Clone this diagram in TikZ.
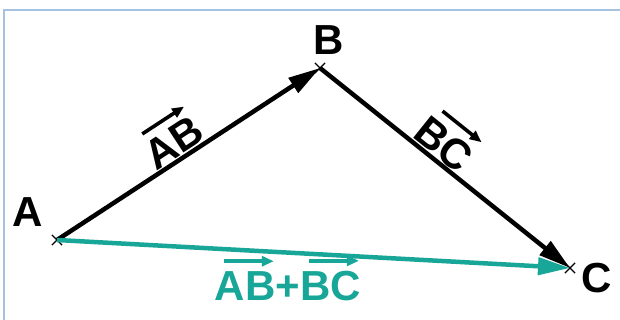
\documentclass[tikz,border=0pt]{standalone}
\usepackage{fontspec}
\setmainfont{Liberation Sans}
\usetikzlibrary{positioning,arrows.meta,shapes.misc}
\definecolor{vecteal}{RGB}{24,166,152}
\definecolor{frameblue}{RGB}{165,195,225}
% 向量记号: 字母上方的小箭头
\newcommand\vecover[1]{\vbox{\offinterlineskip\halign{\hfil##\cr
	\tikz\draw[line width=3.6pt,-{Triangle[length=12pt,width=10pt]}] (0,0) -- (50pt,0);\cr
	\noalign{\vskip5pt}#1\cr}}}

\begin{document}
\begin{tikzpicture}[x=1pt,y=1pt,
	point/.style={cross out,draw,line width=1.2pt,minimum size=9pt,inner sep=0pt},
	ptlabel/.style={font=\fontsize{42}{42}\selectfont\bfseries,inner sep=0pt},
	vecline/.style={line width=4.5pt,-{Triangle[length=32pt,width=17pt]}},
	veclabel/.style={font=\fontsize{42}{42}\selectfont\bfseries,inner sep=3pt}]
	\useasboundingbox (0,0) rectangle (620,320);
	%% 边框
	\draw[frameblue,line width=1.2pt] (4,0) -- (4,310) -- (620,310);
	%% 三个点
	\node[point] (A) at (57,80) {};
	\node[point] (B) at (320,252) {};
	\node[point] (C) at (570,52) {};
	\node[ptlabel,above left=8pt and 9pt of A] (labA) {A};
	\node[ptlabel,above=8pt of B,xshift=9pt] (labB) {B};
	\node[ptlabel,right=6pt of C,yshift=-10pt] (labC) {C};
	% 向量
	\draw[vecline] (A.center) -- node[veclabel,sloped,above,pos=0.48] (labAB) {\vecover{AB}} (B.center);
	\draw[vecline] (B.center) -- node[veclabel,sloped,above,pos=0.45] (labBC) {\vecover{BC}} (C.center);
	% 和向量
	\draw[vecline,vecteal] (A.center) -- node[veclabel,below,pos=0.45,text=vecteal] (labAC) {\vecover{AB}+\vecover{BC}} (C.center);
\end{tikzpicture}
\end{document}
